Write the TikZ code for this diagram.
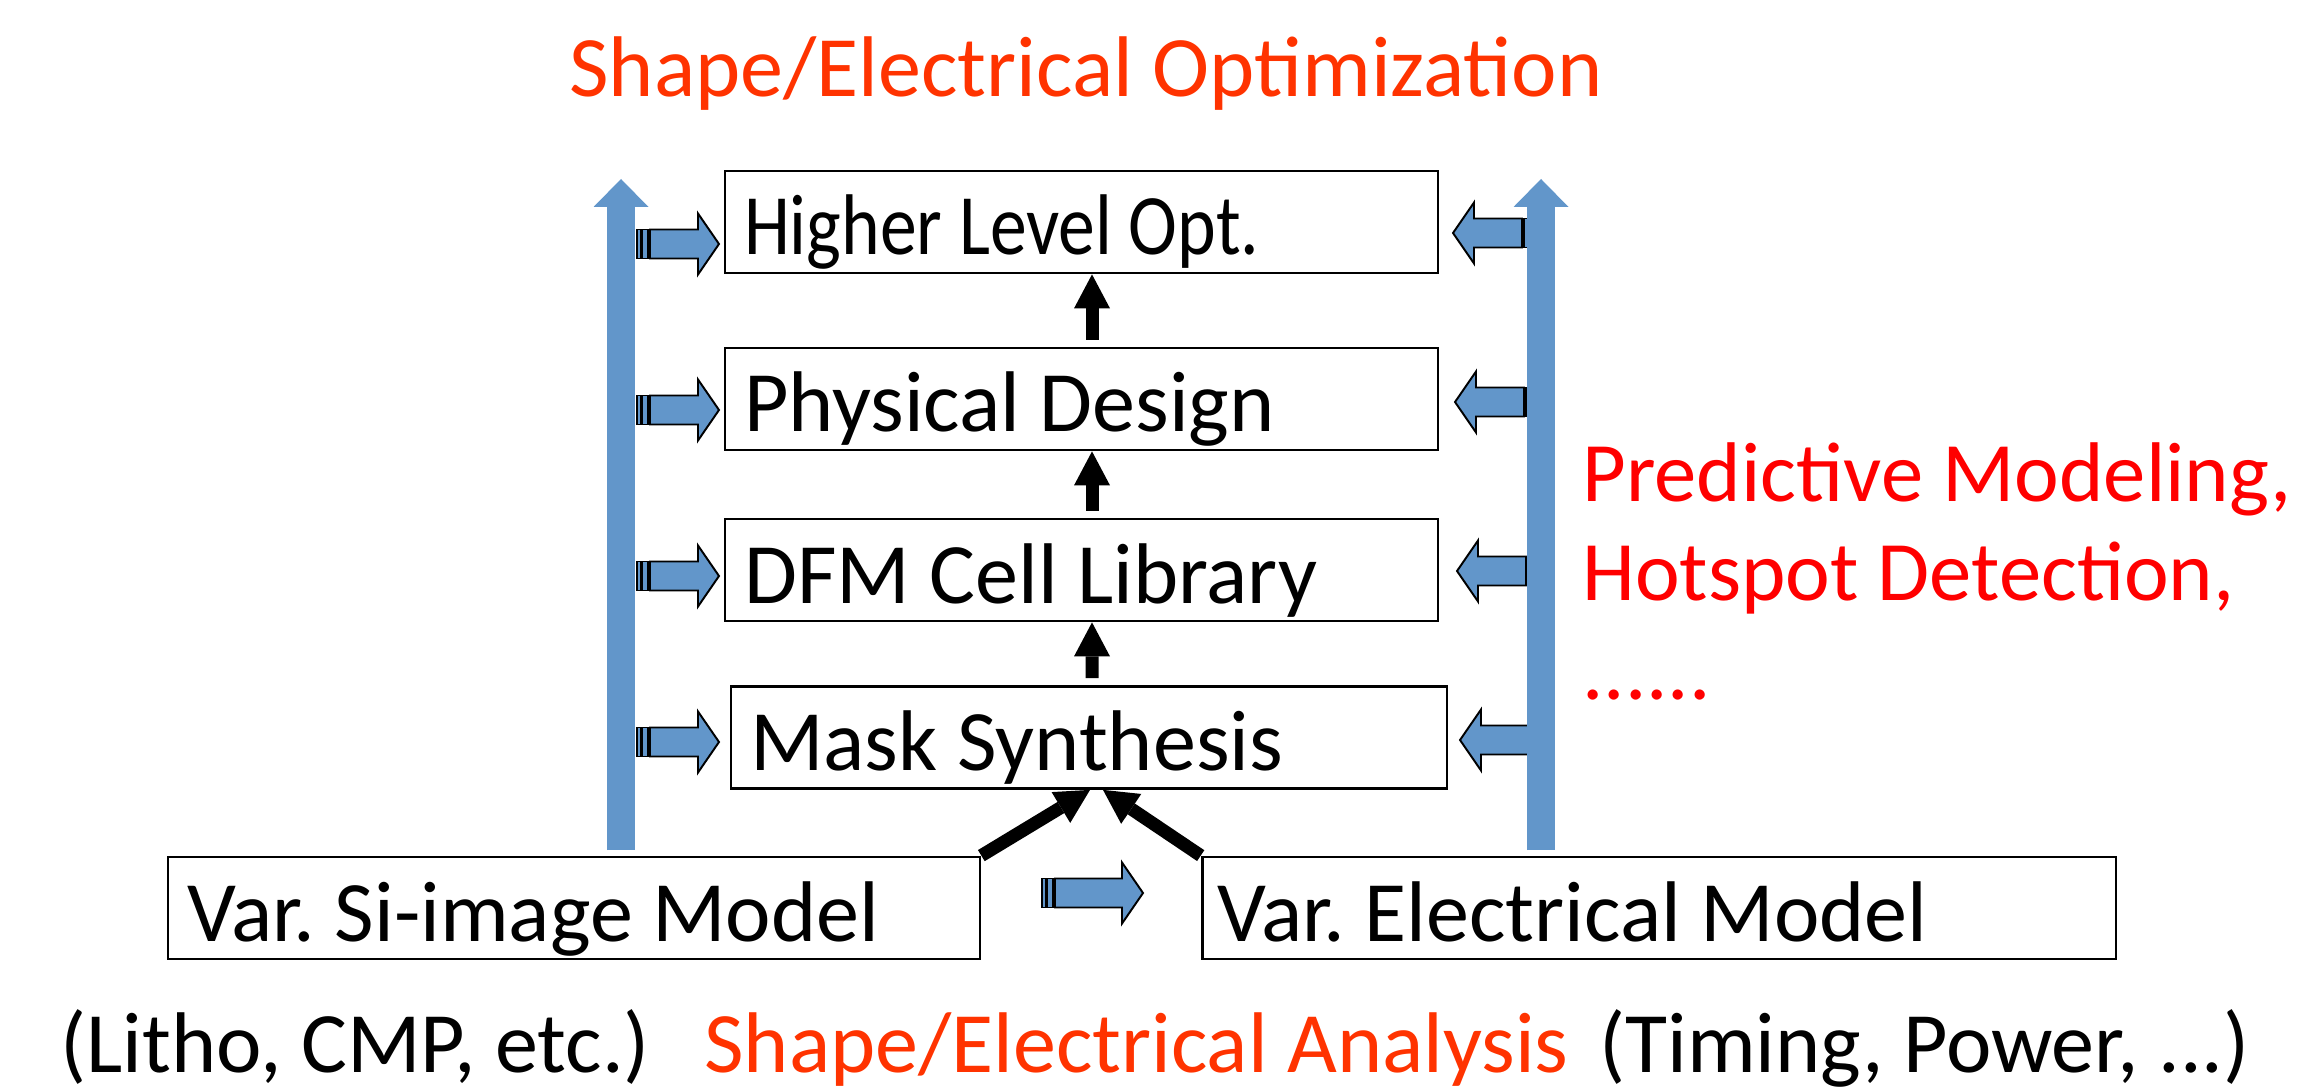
\documentclass[tikz,border=0pt]{standalone}
\usepackage{fontspec}
\setmainfont{Carlito}
\usetikzlibrary{arrows.meta}
\frenchspacing

\definecolor{flowblue}{RGB}{98,150,202}
\definecolor{optorange}{RGB}{255,51,0}

\begin{document}
\begin{tikzpicture}[
    x=0.02cm, y=-0.02cm,
    every node/.style={font=\fontsize{49}{56.3}\selectfont},
    stage/.style={
        draw,
        line width=1.6pt,
        text width=#1,
        align=flush left,
        inner xsep=0.38cm,
        inner ysep=0.1cm,
        minimum height=2.04cm,
        text height=1.5cm,
        text depth=0.18cm
    },
    narrow/.style={font=\fontsize{49}{56.3}\selectfont\addfontfeature{FakeStretch=0.855}},
    note/.style={inner sep=0pt, text=#1},
    stripe/.style={fill=flowblue, draw=black, line width=1.1pt},
    flow/.style={line width=0.26cm, -{Triangle[width=0.72cm,length=0.68cm,line width=0pt]}},
    feed/.style={draw=flowblue, line width=0.56cm, -{Triangle[width=1.1cm,length=0.56cm,line width=0pt]}},
    pics/stripe arrow/.style={code={
        \filldraw[stripe] (0,-14.5) rectangle (4,14.5);
        \filldraw[stripe] (5.5,-14.5) rectangle (11,14.5);
        \filldraw[stripe] (13,-14.5) -- (#1-21,-14.5) -- (#1-21,-30.5) -- (#1,0)
            -- (#1-21,30.5) -- (#1-21,14.5) -- (13,14.5) -- cycle;
    }}
]
\useasboundingbox (0,0) rectangle (2297,1091);

% Design flow stages
\node[stage=13.50cm, narrow] (hlo)  at (1081.5,222) {Higher Level Opt.};
\node[stage=13.50cm] (pd)   at (1081.5,399) {Physical Design};
\node[stage=13.50cm] (dfm)  at (1081.5,570) {DFM Cell Library};
\node[stage=13.56cm] (mask) at (1089,737.5) {Mask Synthesis};

% Models
\node[stage=15.48cm] (sim) at (574,908)  {Var. Si-image Model};
\node[stage=17.68cm, inner xsep=0.3cm] (elm) at (1659,908) {Var. Electrical Model};

% Flow upwards
\draw[flow] ([xshift=0.06cm,yshift=0.14cm]mask.north) -- ([xshift=0.21cm]dfm.south);
\draw[flow] ([xshift=0.21cm,yshift=0.14cm]dfm.north) -- ([xshift=0.21cm]pd.south);
\draw[flow] ([xshift=0.21cm,yshift=0.14cm]pd.north) -- ([xshift=0.21cm]hlo.south);
\draw[flow] (sim.north east) -- ([xshift=0.02cm]mask.south);
\draw[flow] (elm.north west) -- ([xshift=0.28cm]mask.south);

% Striped arrows into the stages
\pic at (637,244) {stripe arrow=82};
\pic at (637,410) {stripe arrow=82};
\pic at (637,576) {stripe arrow=82};
\pic at (637,742) {stripe arrow=82};
\pic[xscale=-1] at (1535,233) {stripe arrow=82};
\pic[xscale=-1] at (1537,402) {stripe arrow=82};
\pic[xscale=-1] at (1539,571) {stripe arrow=82};
\pic[xscale=-1] at (1542,740) {stripe arrow=82};
\pic at (1042,893) {stripe arrow=101};

% Feedback columns
\coordinate (lbot) at (621,850);
\coordinate (ltop) at (621,179);
\coordinate (rbot) at (1541,850);
\coordinate (rtop) at (1541,179);
\draw[feed] (lbot) -- (ltop);
\draw[feed] (rbot) -- (rtop);

% Labels
\node[note=optorange, anchor=base] (opt) at (1086,97) {Shape/Electrical Optimization};
\node[note=red, anchor=base west, align=left, font=\fontsize{48.2}{56.3}\selectfont] (pred) at (1582,699)
    {Predictive Modeling,\\Hotspot Detection,\\......};
\node[note=black, anchor=base west] (litho) at (60,1072) {(Litho, CMP, etc.)};
\node[note=optorange, anchor=base west] (ana) at (704,1072) {Shape/Electrical Analysis};
\node[note=black, anchor=base west] (timing) at (1599,1072) {(Timing, Power, ...)};

\end{tikzpicture}
\end{document}
